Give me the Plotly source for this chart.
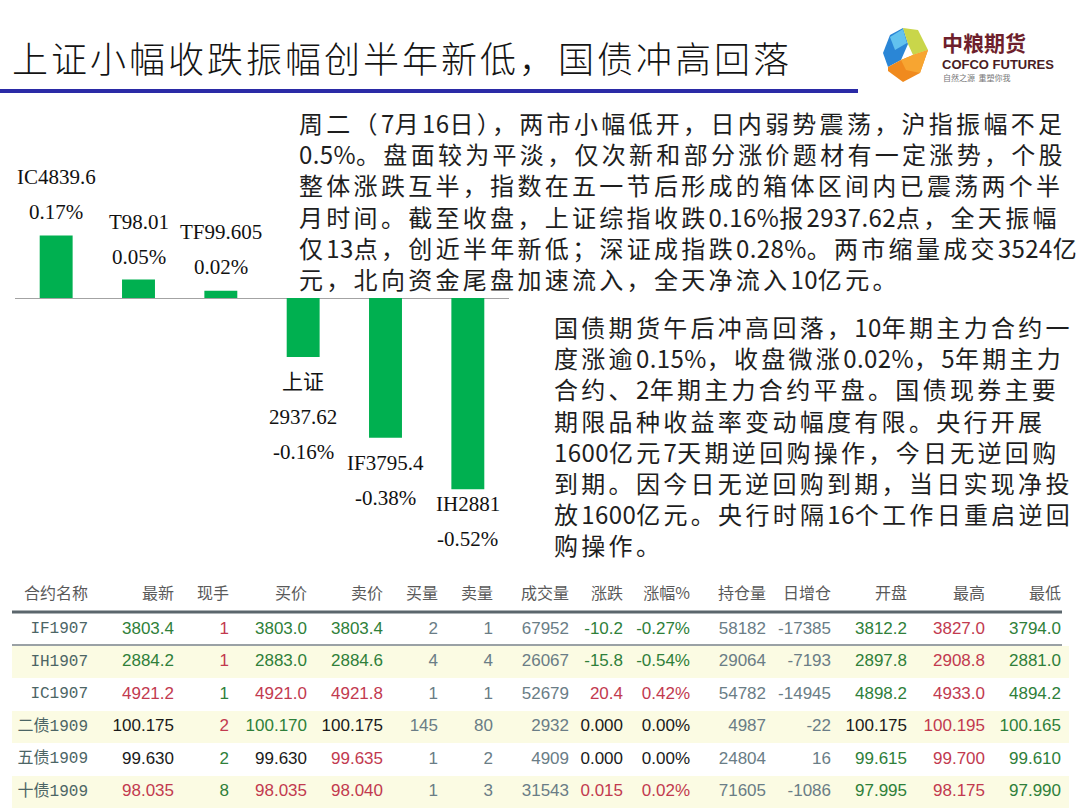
import re
import plotly.graph_objects as go

# ---------------- data ----------------
title_text = "上证小幅收跌振幅创半年新低，国债冲高回落"

bar_names = ["IC", "T", "TF", "上证", "IF", "IH"]
bar_prices = ["4839.6", "98.01", "99.605", "2937.62", "3795.4", "2881"]
bar_changes = [0.17, 0.05, 0.02, -0.16, -0.38, -0.52]

para1 = [
    "周二（7月16日），两市小幅低开，日内弱势震荡，沪指振幅不足",
    "0.5%。盘面较为平淡，仅次新和部分涨价题材有一定涨势，个股",
    "整体涨跌互半，指数在五一节后形成的箱体区间内已震荡两个半",
    "月时间。截至收盘，上证综指收跌0.16%报2937.62点，全天振幅",
    "仅13点，创近半年新低；深证成指跌0.28%。两市缩量成交3524亿",
    "元，北向资金尾盘加速流入，全天净流入10亿元。",
]
para2 = [
    "国债期货午后冲高回落，10年期主力合约一",
    "度涨逾0.15%，收盘微涨0.02%，5年期主力",
    "合约、2年期主力合约平盘。国债现券主要",
    "期限品种收益率变动幅度有限。央行开展",
    "1600亿元7天期逆回购操作，今日无逆回购",
    "到期。因今日无逆回购到期，当日实现净投",
    "放1600亿元。央行时隔16个工作日重启逆回",
    "购操作。",
]

table_header = ["合约名称", "最新", "现手", "买价", "卖价", "买量", "卖量", "成交量",
                "涨跌", "涨幅%", "持仓量", "日增仓", "开盘", "最高", "最低"]
contracts = ["IF1907", "IH1907", "IC1907", "二债1909", "五债1909", "十债1909"]
latest = ["3803.4", "2884.2", "4921.2", "100.175", "99.630", "98.035"]
last_hand = ["1", "1", "1", "2", "2", "8"]
bid_price = ["3803.0", "2883.0", "4921.0", "100.170", "99.630", "98.035"]
ask_price = ["3803.4", "2884.6", "4921.8", "100.175", "99.635", "98.040"]
bid_vol = ["2", "4", "1", "145", "1", "1"]
ask_vol = ["1", "4", "1", "80", "2", "3"]
volume = ["67952", "26067", "52679", "2932", "4909", "31543"]
change = ["-10.2", "-15.8", "20.4", "0.000", "0.000", "0.015"]
change_pct = ["-0.27%", "-0.54%", "0.42%", "0.00%", "0.00%", "0.02%"]
open_interest = ["58182", "29064", "54782", "4987", "24804", "71605"]
oi_change = ["-17385", "-7193", "-14945", "-22", "16", "-1086"]
open_price = ["3812.2", "2897.8", "4898.2", "100.175", "99.615", "97.995"]
high_price = ["3827.0", "2908.8", "4933.0", "100.195", "99.700", "98.175"]
low_price = ["3794.0", "2881.0", "4894.2", "100.165", "99.610", "97.990"]

# ---------------- styles ----------------
W, H = 1080, 810


def px(x):
    return x / W


def py(y):
    return 1 - y / H


def spaced(line, cjk_sp=3.3, ascii_sp=0.4):
    parts = re.findall(r'[\x00-\x7f]+|[^\x00-\x7f]+', line)
    out = []
    for p in parts:
        sp = ascii_sp if p.isascii() else cjk_sp
        out.append(f'<span style="letter-spacing:{sp}px">{p}</span>')
    return "".join(out)


BAR_GREEN = "#00b050"
label_gap = [23, 23, 24, 25, 25, 15]   # px gap between bar end and first label line
label_step = 35
PARA_FONT = 24
PARA_LINE = PARA_FONT * 1.3

# colour codes for table cells (columns 1..14): g=green, r=red, k=black, n=neutral
row_codes = [
    "grggnnnggnngrg",
    "grggnnnggnngrg",
    "rgrrnnnrrnngrg",
    "krgknnnkknnkrg",
    "kgkrnnnkknngrg",
    "rgrrnnnrrnngrg",
]
code_color = {"g": "#2f7f3a", "r": "#c23a4f", "k": "#1a1a1a", "n": "#6a7d86"}
NAME_COLOR = "#4c6565"
row_fills = ["#ffffff", "#fbfbe3", "#ffffff", "#fbfbe3", "#ffffff", "#fbfbe3"]
col_widths = [84, 86, 55, 78, 76, 55, 55, 76, 54, 67, 76, 65, 76, 78, 76]

fig = go.Figure()

# ---------------- bar chart ----------------
fig.add_trace(go.Bar(
    x=bar_names, y=bar_changes, width=0.4,
    marker=dict(color=BAR_GREEN, line=dict(width=0)),
    hoverinfo="skip", showlegend=False,
))

annotations = []
for name, price, val, gap in zip(bar_names, bar_prices, bar_changes, label_gap):
    if name.isascii():
        lines = [name + price]
    else:
        lines = [name, price]
    lines.append(f"{val:.2f}%")
    if val >= 0:
        lines_order = list(reversed(lines))
        shifts = [gap + i * label_step for i in range(len(lines_order))]
    else:
        lines_order = lines
        shifts = [-(gap + i * label_step) for i in range(len(lines_order))]
    for t, s in zip(lines_order, shifts):
        annotations.append(dict(
            x=name, y=val, xref="x", yref="y", text=t, showarrow=False,
            yshift=s, xanchor="center", yanchor="middle",
            font=dict(family="Liberation Serif, Noto Sans CJK SC, serif", size=21, color="#111111"),
        ))

# ---------------- title ----------------
annotations.append(dict(
    x=px(10), y=py(57), xref="paper", yref="paper", xanchor="left", yanchor="middle",
    text=f'<span style="letter-spacing:3px">{title_text}</span>', showarrow=False,
    font=dict(family="Noto Sans CJK SC", size=36, color="#141414", weight=300),
))

# ---------------- paragraphs ----------------
for para, x0, first_y in ((para1, 297, 122), (para2, 552, 326)):
    center_y = first_y + (len(para) - 1) / 2 * PARA_LINE
    annotations.append(dict(
        x=px(x0), y=py(center_y), xref="paper", yref="paper",
        xanchor="left", yanchor="middle", align="left", showarrow=False,
        text="<br>".join(spaced(line) for line in para),
        font=dict(family="Noto Sans CJK SC", size=PARA_FONT, color="#1e1e1e"),
    ))

# ---------------- logo text ----------------
annotations.append(dict(
    x=px(940), y=py(42), xref="paper", yref="paper", xanchor="left", yanchor="middle",
    text="<b>中粮期货</b>", showarrow=False,
    font=dict(family="Noto Sans CJK SC", size=21, color="#6e1f2c"),
))
annotations.append(dict(
    x=px(940), y=py(64), xref="paper", yref="paper", xanchor="left", yanchor="middle",
    text="<b>COFCO FUTURES</b>", showarrow=False,
    font=dict(family="Liberation Sans Narrow, Liberation Sans, sans-serif", size=13, color="#4a1d24"),
))
annotations.append(dict(
    x=px(941), y=py(77), xref="paper", yref="paper", xanchor="left", yanchor="middle",
    text="自然之源  重塑你我", showarrow=False,
    font=dict(family="Noto Sans CJK SC", size=8, color="#777777"),
))

# ---------------- table ----------------
columns = [contracts, latest, last_hand, bid_price, ask_price, bid_vol, ask_vol, volume,
           change, change_pct, open_interest, oi_change, open_price, high_price, low_price]
font_colors = [[NAME_COLOR] * len(contracts)]
for c in range(14):
    font_colors.append([code_color[row_codes[r][c]] for r in range(len(contracts))])
fill_colors = [row_fills for _ in columns]
families = ["Liberation Mono, Noto Sans CJK SC"] + ["Liberation Sans, Arial, sans-serif"] * 14
sizes = [16] + [17] * 14

fig.add_trace(go.Table(
    domain=dict(x=[px(12), px(1069)], y=[py(809), py(579)]),
    columnwidth=col_widths,
    header=dict(
        values=table_header, align="right", height=34,
        font=dict(family="Noto Sans CJK SC", size=16, color="#5a5a5a"),
        fill=dict(color="#ffffff"), line=dict(color="rgba(0,0,0,0)", width=0),
    ),
    cells=dict(
        values=columns, align="right", height=32.5,
        font=dict(family=families, size=sizes, color=font_colors),
        fill=dict(color=fill_colors), line=dict(color="rgba(0,0,0,0)", width=0),
    ),
))

# ---------------- shapes ----------------
shapes = [
    # title underline
    dict(type="line", xref="paper", yref="paper", x0=0, x1=px(858), y0=py(91), y1=py(91),
         line=dict(color="#2a2aa6", width=4)),
    # table header rule & separator
    dict(type="line", xref="paper", yref="paper", x0=px(12), x1=px(1062), y0=py(612), y1=py(612),
         line=dict(color="#5b666c", width=3)),
    dict(type="line", xref="paper", yref="paper", x0=px(12), x1=px(1062), y0=py(645), y1=py(645),
         line=dict(color="#9aa1a5", width=2)),
]


def poly(points, color):
    d = "M " + " L ".join(f"{px(x):.5f},{py(y):.5f}" for x, y in points) + " Z"
    return dict(type="path", xref="paper", yref="paper", path=d, fillcolor=color,
                line=dict(width=0), layer="above")


# logo cube facets
shapes.append(poly([(883, 53), (890, 35), (903, 28), (908, 44), (901, 60), (888, 67)], "#2a86d6"))
shapes.append(poly([(890, 37), (903, 29), (907, 43), (895, 50)], "#62c2ee"))
shapes.append(poly([(903, 28), (918, 30), (928, 50), (913, 55), (908, 44)], "#c9d64a"))
shapes.append(poly([(888, 67), (901, 60), (913, 55), (928, 50), (920, 73), (903, 82), (888, 71)], "#f08a1e"))
shapes.append(poly([(901, 60), (913, 55), (928, 50), (920, 73), (906, 70)], "#f7a531"))

fig.update_layout(
    width=W, height=H, margin=dict(l=0, r=0, t=0, b=0),
    paper_bgcolor="#ffffff", plot_bgcolor="rgba(0,0,0,0)",
    showlegend=False, bargap=0.6,
    xaxis=dict(domain=[px(15), px(509)], range=[-0.5, 5.5], visible=False, fixedrange=True),
    yaxis=dict(domain=[py(570), py(100)], range=[-(570 - 298) / 368, (298 - 100) / 368],
               showticklabels=False, showgrid=False, zeroline=True,
               zerolinecolor="#a3a3a3", zerolinewidth=1, showline=False, fixedrange=True),
    annotations=annotations,
    shapes=shapes,
)

fig.write_html("out.html", post_script="document.body.style.margin='0';",
               config={"displayModeBar": False})
